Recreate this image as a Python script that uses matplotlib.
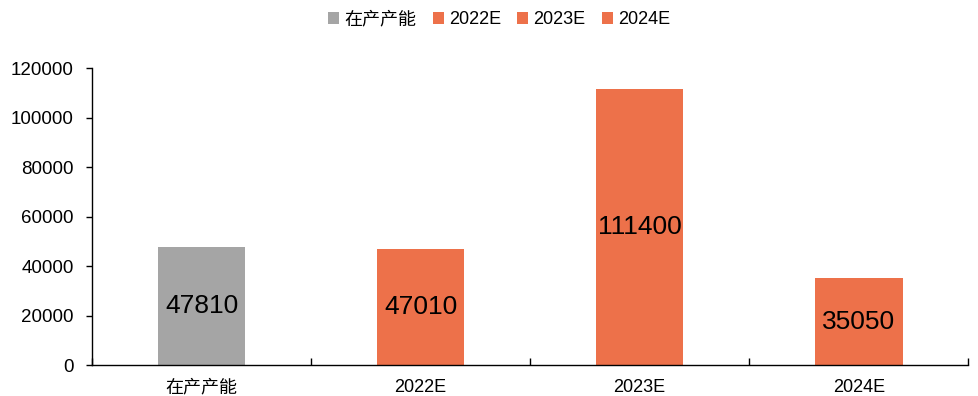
import numpy as np
import matplotlib
matplotlib.use('Agg')
import matplotlib.pyplot as plt

plt.rcParams['font.family'] = ['Liberation Sans', 'Noto Sans CJK SC', 'DejaVu Sans']

# capacity by stage (tonnes)
categories = ['在产产能', '2022E', '2023E', '2024E']
capacity = [47810, 47010, 111400, 35050]
colors = ['#A5A5A5', '#ED714A', '#ED714A', '#ED714A']
y_ticks = [0, 20000, 40000, 60000, 80000, 100000, 120000]

fig = plt.figure(figsize=(9.79, 3.96), dpi=100)
ax = fig.add_axes([0.094, 0.078, 0.895, 0.75])

x = np.arange(len(categories))
for i, (cat, val, col) in enumerate(zip(categories, capacity, colors)):
    ax.bar(x[i], val, width=0.4, color=col, label=cat)
    ax.text(x[i], val / 2, str(val), ha='center', va='center', fontsize=19, color='black')

ax.set_xlim(-0.5, len(categories) - 0.5)
ax.set_ylim(0, 120000)
ax.set_yticks(y_ticks)
ax.set_yticklabels([str(v) for v in y_ticks], fontsize=13.5)
ax.set_xticks(x)
ax.set_xticklabels(categories, fontsize=13)
ax.tick_params(axis='x', which='major', length=0, pad=10)
ax.set_xticks(np.arange(-0.5, len(categories)), minor=True)
ax.tick_params(axis='x', which='minor', direction='in', length=5, width=1)
ax.tick_params(axis='y', direction='out', length=4, width=1, pad=9)

for side in ['top', 'right']:
    ax.spines[side].set_visible(False)
for side in ['left', 'bottom']:
    ax.spines[side].set_linewidth(1)

fig.legend(loc='center', bbox_to_anchor=(0.51, 0.95), ncol=4, frameon=False,
           fontsize=13, handlelength=0.6, handleheight=0.6, handletextpad=0.3,
           columnspacing=0.9)

fig.savefig('out.png', dpi=100)
